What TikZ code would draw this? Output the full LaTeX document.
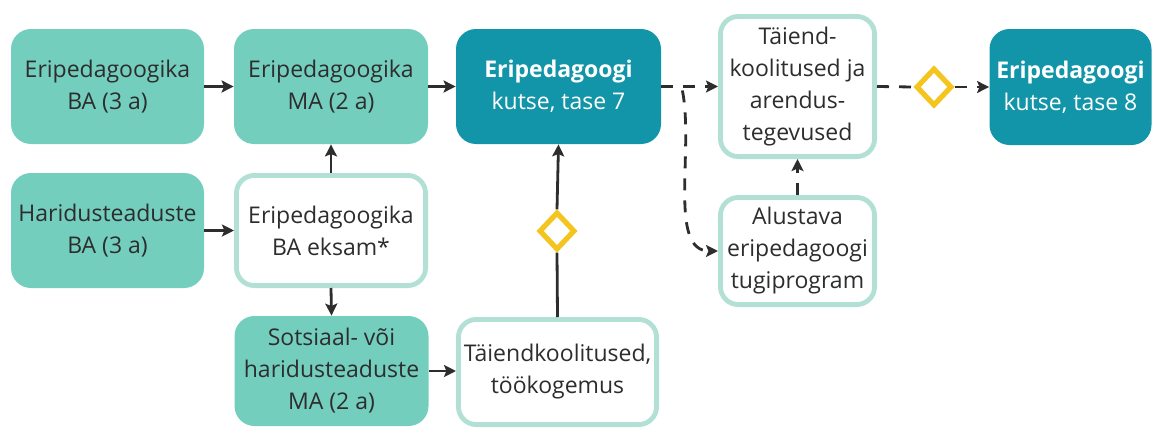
\documentclass[tikz,border=0pt]{standalone}
\usepackage{fontspec}
\usepackage{xcolor}
\usepackage{tikz}
\usetikzlibrary{arrows.meta}
\usetikzlibrary{shapes.geometric, calc}
\setmainfont{Open Sans}
\definecolor{tealfill}{HTML}{74CEBE}
\definecolor{tealdark}{HTML}{1295A8}
\definecolor{tealline}{HTML}{B3E0D5}
\definecolor{gold}{HTML}{F4C51E}
\definecolor{ink}{HTML}{2D2D2D}

\begin{document}
\begin{tikzpicture}[x=0.5pt, y=-0.5pt,
    every node/.style={font=\fontsize{11.5}{16}\selectfont, align=center, text=ink, inner sep=0pt},
    box/.style={fill=tealfill, rounded corners=10pt},
    kbox/.style={fill=tealdark, rounded corners=10pt, text=white},
    obox/.style={draw=tealline, line width=2.4pt, fill=white, rounded corners=9pt},
    cond/.style={diamond, draw=gold, line width=2.6pt, minimum width=18pt, minimum height=19pt, fill=white},
    arr/.style={draw=ink, line width=1.4pt, -{Stealth[length=6pt, width=6pt, inset=1.2pt]}},
    darr/.style={arr, dash pattern=on 6pt off 5pt}]
    \useasboundingbox (0,0) rectangle (1152,428);

    % Esimene rida
    \node[box, minimum width=96.5pt, minimum height=57.5pt] (ba) at (107.5,86.5) {Eripedagoogika\\BA (3 a)};
    \node[box, minimum width=97pt, minimum height=57.5pt] (ma) at (331,86.5) {Eripedagoogika\\MA (2 a)};
    \node[kbox, minimum width=102.5pt, minimum height=57.5pt] (kt7) at (558.5,86.5) {\textbf{Eripedagoogi}\\kutse, tase 7};
    \node[obox, minimum width=77.1pt, minimum height=70.1pt] (tai) at (797.5,86.5) {Täiend-\\koolitused ja\\arendus-\\tegevused};
    \node[kbox, minimum width=81pt, minimum height=58pt] (kt8) at (1070.5,87) {\textbf{Eripedagoogi}\\kutse, tase 8};

    % Teine rida
    \node[box, minimum width=96.5pt, minimum height=57.5pt] (hba) at (107.5,230.5) {Haridusteaduste\\BA (3 a)};
    \node[obox, minimum width=94.6pt, minimum height=55.1pt] (eks) at (331,230.5) {Eripedagoogika\\BA eksam*};
    \node[obox, minimum width=77.1pt, minimum height=53.6pt] (alu) at (797.5,251) {Alustava\\eripedagoogi\\tugiprogram};

    % Kolmas rida
    \node[box, minimum width=97pt, minimum height=55pt] (sots) at (331.5,371) {Sotsiaal- või\\haridusteaduste\\MA (2 a)};
    \node[obox, minimum width=99.1pt, minimum height=52.6pt] (tkg) at (557.5,372) {Täiendkoolitused,\\töökogemus};

    % Tingimused
    \node[cond] (dm1) at (557,231) {};
    \node[cond] (dm2) at (934,87) {};

    % Nooled
    \draw[arr] (ba.east) -- (ma.west);
    \draw[arr] (ma.east) -- (kt7.west);
    \draw[arr] (hba.east) -- (eks.west);
    \draw[arr] (eks.north) -- (ma.south);
    \draw[arr] (eks.south) -- (sots.north);
    \draw[arr] (sots.east) -- (sots.east -| tkg.west);
    \draw[draw=ink, line width=1.4pt] (tkg.north) -- (dm1.south);
    \draw[arr] (dm1.north) -- (kt7.south);

    % Katkendjooned
    \coordinate (br) at ([xshift=10.5pt, yshift=-2pt]kt7.east);
    \draw[darr] (kt7.east) -- (tai.west);
    \draw[darr] (br) .. controls (694,150) and (668,251) .. (alu.west);
    \draw[darr] (alu.north) -- (tai.south);
    \draw[darr, -] (tai.east) -- (dm2.west);
    \draw[darr] (dm2.east) -- (kt8.west);

\end{tikzpicture}
\end{document}
